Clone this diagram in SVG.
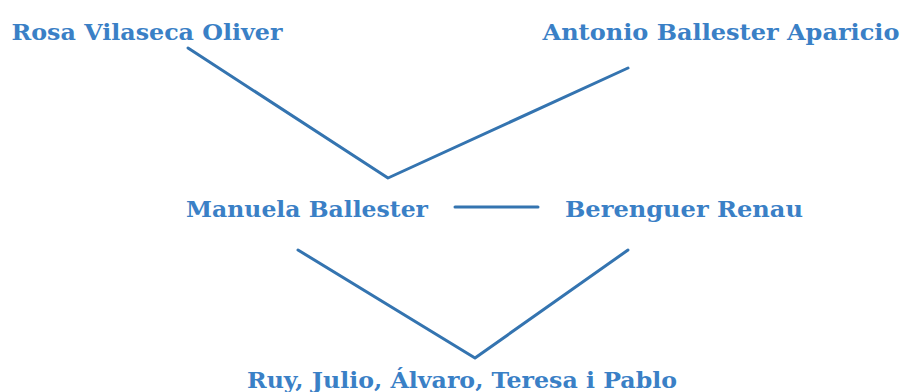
<svg xmlns="http://www.w3.org/2000/svg" width="903" height="392" viewBox="0 0 903 392">
<style>
text{font-family:"DejaVu Serif","Liberation Serif",serif;font-weight:bold;font-size:23px;fill:#3a80c6;text-anchor:middle}
.c{fill:none;stroke:#3474b0;stroke-width:3;stroke-linecap:round;stroke-linejoin:round}
</style>
<rect width="903" height="392" fill="#ffffff"/>
<g id="connectors">
<polyline class="c" points="188,48 388,178 628,68"/>
<line class="c" x1="455" y1="207" x2="538" y2="207"/>
<polyline class="c" points="298,250 475,358 628,250"/>
</g>
<g id="rosa"><text x="147" y="40" textLength="271" lengthAdjust="spacingAndGlyphs">Rosa Vilaseca Oliver</text></g>
<g id="antonio"><text x="721" y="40" textLength="357" lengthAdjust="spacingAndGlyphs">Antonio Ballester Aparicio</text></g>
<g id="manuela"><text x="307" y="217" textLength="242" lengthAdjust="spacingAndGlyphs">Manuela Ballester</text></g>
<g id="berenguer"><text x="684" y="217" textLength="238" lengthAdjust="spacingAndGlyphs">Berenguer Renau</text></g>
<g id="children"><text x="462" y="388" textLength="430" lengthAdjust="spacingAndGlyphs">Ruy, Julio, Álvaro, Teresa i Pablo</text></g>
</svg>
